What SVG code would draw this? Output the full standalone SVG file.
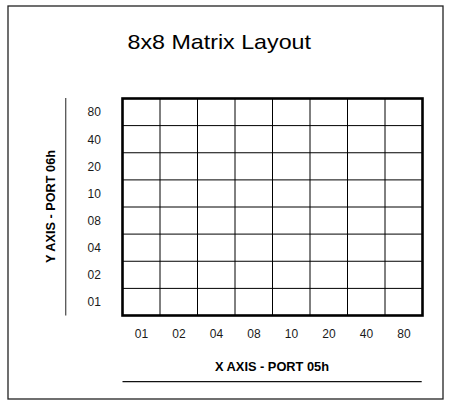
<svg xmlns="http://www.w3.org/2000/svg" width="453" height="409" viewBox="0 0 453 409">
<style>
.frame{fill:#fff;stroke:#222;stroke-width:1.3}
.outer{fill:none;stroke:#000;stroke-width:2.6}
.inner{stroke:#000;stroke-width:1;fill:none}
.num{font-family:"Liberation Sans",Arial,sans-serif;font-size:12px;fill:#1a1a1a;text-anchor:middle}
.axis{font-family:"Liberation Sans",Arial,sans-serif;font-size:13px;font-weight:bold;fill:#000;text-anchor:middle}
.title{font-family:"Liberation Sans",Arial,sans-serif;font-size:21px;fill:#000}
.rule{stroke:#111;stroke-width:1.3}
</style>
<rect class="frame" x="8" y="6" width="435" height="393"/>
<g id="title"><text class="title" x="127.5" y="48.5" textLength="183.5" lengthAdjust="spacingAndGlyphs">8x8 Matrix Layout</text></g>
<g id="grid">
<path class="inner" d="M160,98.5V315.5M197.5,98.5V315.5M235,98.5V315.5M272.5,98.5V315.5M310,98.5V315.5M347.5,98.5V315.5M385,98.5V315.5M122.5,125.6H422.5M122.5,152.75H422.5M122.5,179.9H422.5M122.5,207H422.5M122.5,234.1H422.5M122.5,261.25H422.5M122.5,288.4H422.5"/>
<rect class="outer" x="122.5" y="98.5" width="300" height="217"/>
</g>
<g id="y-labels">
<text class="num" x="94.3" y="116.3">80</text>
<text class="num" x="94.3" y="143.5">40</text>
<text class="num" x="94.3" y="170.6">20</text>
<text class="num" x="94.3" y="197.7">10</text>
<text class="num" x="94.3" y="224.9">08</text>
<text class="num" x="94.3" y="252">04</text>
<text class="num" x="94.3" y="279.1">02</text>
<text class="num" x="94.3" y="306.2">01</text>
</g>
<g id="x-labels">
<text class="num" x="141.5" y="338">01</text>
<text class="num" x="179" y="338">02</text>
<text class="num" x="216.5" y="338">04</text>
<text class="num" x="254" y="338">08</text>
<text class="num" x="291.5" y="338">10</text>
<text class="num" x="329" y="338">20</text>
<text class="num" x="366.5" y="338">40</text>
<text class="num" x="404" y="338">80</text>
</g>
<g id="x-axis">
<text class="axis" x="272" y="371" textLength="114" lengthAdjust="spacingAndGlyphs">X AXIS - PORT 05h</text>
<line class="rule" x1="122.5" y1="381.7" x2="421.7" y2="381.7"/>
</g>
<g id="y-axis">
<text class="axis" transform="translate(55,206.5) rotate(-90)" x="0" y="0" textLength="113" lengthAdjust="spacingAndGlyphs">Y AXIS - PORT 06h</text>
<line class="rule" x1="65.7" y1="98" x2="65.7" y2="315.5" style="stroke:#555"/>
</g>
</svg>
